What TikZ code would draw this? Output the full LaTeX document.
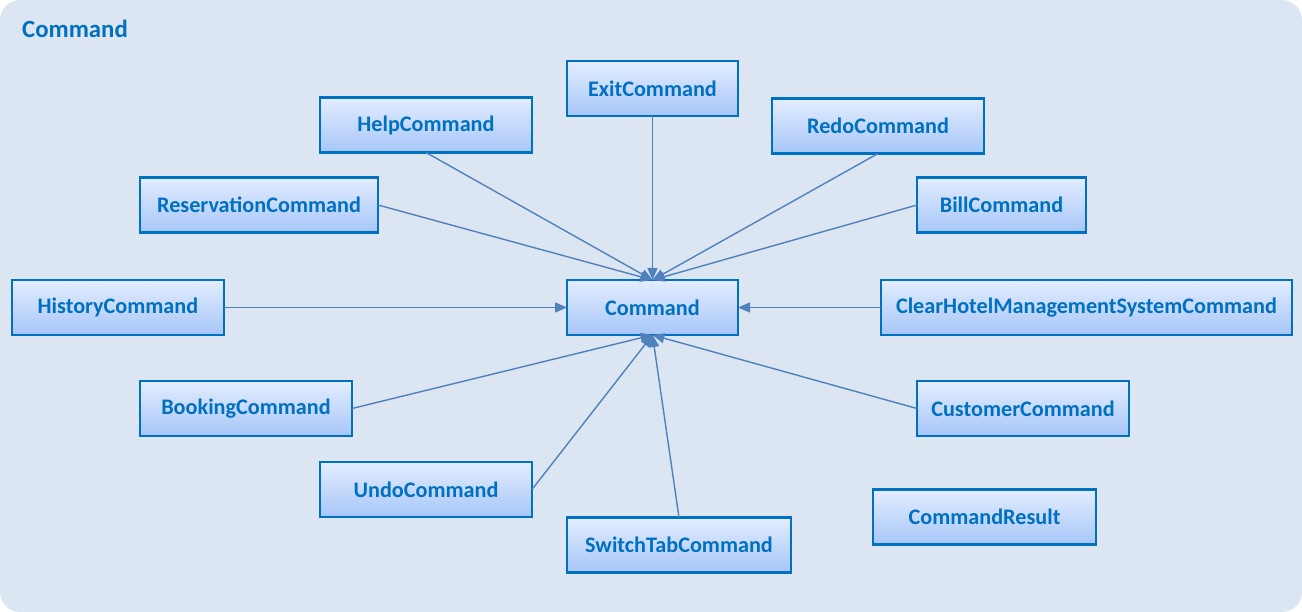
\documentclass[tikz,border=0pt]{standalone}
\usepackage{fontspec}
\setmainfont{Carlito}
\usetikzlibrary{arrows.meta,shadings}
\definecolor{bgc}{HTML}{DCE6F2}
\definecolor{bordc}{HTML}{0070C0}
\definecolor{txtc}{HTML}{0070C0}
\definecolor{linec}{HTML}{4F81BD}
\definecolor{topc}{HTML}{E3EDFF}
\definecolor{botc}{HTML}{A6C6F8}
\tikzset{
  cls/.style={draw=bordc, line width=2.2pt, top color=topc, bottom color=botc,
    text=txtc, font=\fontsize{22.2}{24}\selectfont\bfseries, inner sep=0pt, outer sep=0pt,
    minimum height=55pt},
  dep/.style={draw=linec, line width=1.4pt, -{Triangle[length=12pt,width=10pt,fill=linec]}}
}
\begin{document}
\begin{tikzpicture}[x=1pt,y=-1pt]
\useasboundingbox (0,0) rectangle (1302,612);
\fill[bgc, rounded corners=20pt] (0,0) rectangle (1302,612);
\node[anchor=west, text=txtc, font=\fontsize{24.8}{26}\selectfont\bfseries, inner sep=0pt] (title) at (22,29) {Command};

\node[cls, minimum width=171pt] (exit) at (652.5,88.5) {ExitCommand};
\node[cls, minimum width=212pt] (help) at (426,125) {HelpCommand};
\node[cls, minimum width=212pt] (redo) at (878,126) {RedoCommand};
\node[cls, minimum width=238pt] (res) at (259,205) {ReservationCommand};
\node[cls, minimum width=169pt] (bill) at (1001.5,205) {BillCommand};
\node[cls, minimum width=212pt] (hist) at (118,307.5) {HistoryCommand};
\node[cls, minimum width=171pt] (cmd) at (652.5,307.5) {Command};
\node[cls, minimum width=411pt] (clear) at (1086.5,307.5) {ClearHotelManagementSystemCommand};
\node[cls, minimum width=212pt] (book) at (246,408.5) {BookingCommand};
\node[cls, minimum width=212pt] (cust) at (1023,408.5) {CustomerCommand};
\node[cls, minimum width=212pt] (undo) at (426,489.5) {UndoCommand};
\node[cls, minimum width=224pt] (switch) at (679,545) {SwitchTabCommand};
\node[cls, minimum width=223pt] (result) at (984.5,517) {CommandResult};

\draw[dep] (exit.south) -- (cmd.north);
\draw[dep] (help.south) -- (cmd.north);
\draw[dep] (res.east) -- (cmd.north);
\draw[dep] (redo.south) -- (cmd.north);
\draw[dep] (bill.west) -- (cmd.north);
\draw[dep] (hist.east) -- (cmd.west);
\draw[dep] (clear.west) -- (cmd.east);
\draw[dep] (book.east) -- (cmd.south);
\draw[dep] (undo.east) -- (cmd.south);
\draw[dep] (switch.north) -- (cmd.south);
\draw[dep] (cust.west) -- (cmd.south);
\end{tikzpicture}
\end{document}
